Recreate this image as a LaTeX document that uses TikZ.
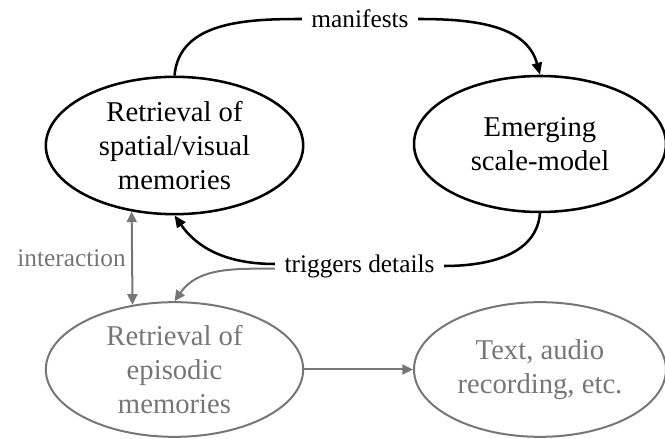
\documentclass[tikz,border=0pt]{standalone}
\usepackage{fontspec}
\setmainfont{Liberation Serif}
\usetikzlibrary{arrows.meta,shapes.geometric}
\definecolor{dimink}{RGB}{118,118,118}
\begin{document}
\begin{tikzpicture}[x=.75pt,y=.75pt,
		blob/.style={ellipse,draw,line width=1.9pt,inner sep=0pt,align=center,font=\fontsize{21.5}{25.5}\selectfont},
		tag/.style={inner sep=7pt,font=\fontsize{19}{22}\selectfont},
		blk/.style={line width=1.9pt,-{Triangle[length=9pt,width=7.5pt]}},
		gry/.style={dimink,line width=1.5pt}]
		\useasboundingbox (0,0) rectangle (665,439);
		% upper pair
		\node[blob,minimum width=193pt,minimum height=103pt] (sv) at (174.5,293.5) {Retrieval of\\spatial/visual\\memories};
		\node[blob,minimum width=189pt,minimum height=102pt] (em) at (540,295) {Emerging\\scale-model};
		\node[tag] (mf) at (360,420) {manifests};
		\node[tag] (td) at (359.5,173) {triggers details};
		\draw[line width=1.9pt] (sv.north) to[out=85,in=180] (mf.west);
		\draw[blk] (mf.east) to[out=0,in=105] (em.north);
		\draw[line width=1.9pt] (em.south) to[out=-95,in=0] (td.east);
		\draw[blk] ([yshift=1.5pt]td.west) to[out=180,in=-55] (sv.south);
		% lower pair
		\begin{scope}[dimink]
			\node[blob,line width=1.5pt,minimum width=193pt,minimum height=101pt] (ep) at (174.5,69.5) {Retrieval of\\episodic\\memories};
			\node[blob,line width=1.5pt,minimum width=189pt,minimum height=101pt] (tx) at (540,69.5) {Text, audio\\recording, etc.};
			\draw[gry,-{Triangle[length=8pt,width=7.5pt]}] ([yshift=-2pt]td.west) to[out=180,in=55] (ep.north);
			\draw[gry,{Triangle[length=8pt,width=7.5pt]}-{Triangle[length=8pt,width=7.5pt]}] (sv.237) -- (ep.123) node[midway,left,inner sep=4pt,font=\fontsize{19}{22}\selectfont] (ia) {interaction};
			\draw[gry,-{Triangle[length=8pt,width=7.5pt]}] (ep.east) -- (tx.west);
		\end{scope}
	\end{tikzpicture}
\end{document}
